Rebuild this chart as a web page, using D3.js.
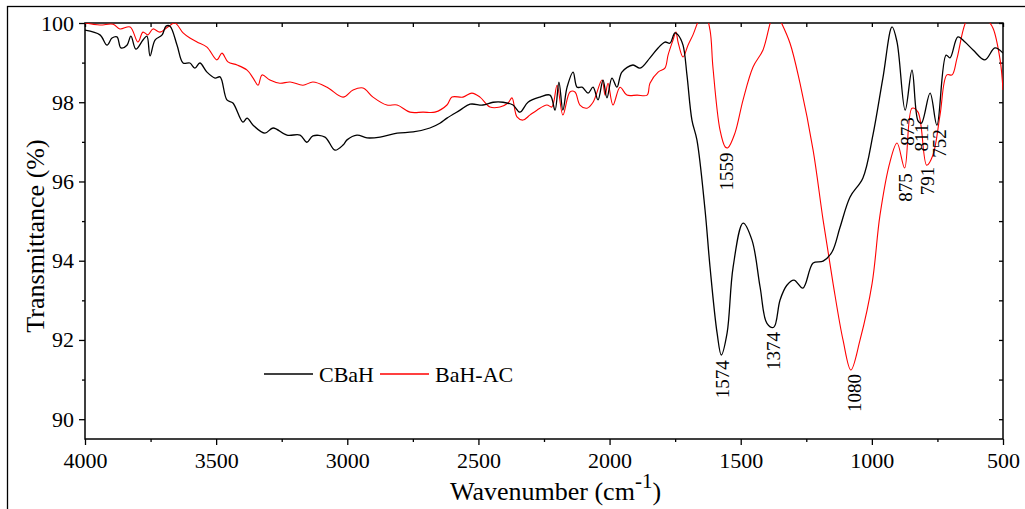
<!DOCTYPE html>
<html>
<head>
<meta charset="utf-8">
<script src="https://cdn.jsdelivr.net/npm/d3@7"></script>
<style>
body { margin: 0; background: #fff; }
svg text { font-family: "Liberation Serif", "Times New Roman", Times, "DejaVu Serif", serif; }
</style>
</head>
<body>
<svg id="chart" width="1025" height="509"></svg>
<script>
// CBaH spectrum (wavenumber, transmittance %)
const cbahWn = [4000,3943,3916,3897,3878,3863,3840,3825,3806,3779,
    3764,3752,3733,3706,3691,3676,3649,3626,3600,3581,
    3562,3535,3504,3485,3459,3436,3398,3382,3359,3314,
    3283,3230,3180,3154,3131,3085,3047,3016,3001,2963,
    2925,2875,2810,2749,2685,2647,2620,2570,2532,2483,
    2444,2406,2368,2342,2311,2265,2227,2208,2193,2178,
    2162,2139,2124,2105,2082,2063,2044,2025,2010,1991,
    1972,1953,1911,1884,1846,1815,1789,1770,1751,1739,
    1720,1705,1686,1667,1636,1617,1590,1574,1552,1529,
    1491,1457,1426,1400,1374,1350,1324,1297,1263,1224,
    1186,1152,1121,1083,1034,996,958,923,904,873,
    847,824,811,778,752,717,702,672,645,614,
    569,531,500];
const cbahT = [99.82,99.70,99.44,99.62,99.65,99.37,99.44,99.67,99.34,99.57,
    99.67,99.17,99.57,99.70,99.92,99.92,99.44,98.99,98.99,98.86,
    98.99,98.76,98.61,98.64,98.06,97.98,97.50,97.60,97.42,97.22,
    97.35,97.17,97.17,96.99,97.15,97.12,96.79,96.92,97.05,97.17,
    97.10,97.12,97.22,97.25,97.35,97.47,97.60,97.80,97.95,97.93,
    98.00,98.00,97.93,97.75,98.00,98.13,98.18,97.80,98.51,97.80,
    98.38,98.76,98.38,98.38,98.23,98.38,98.06,98.56,98.11,98.61,
    98.38,98.76,98.94,98.86,99.12,99.37,99.52,99.49,99.75,99.70,
    99.44,98.69,97.55,97.05,95.28,93.84,92.17,91.62,92.17,93.84,
    94.95,94.52,93.33,92.42,92.32,93.01,93.38,93.51,93.31,93.94,
    93.99,94.22,94.85,95.61,96.09,97.17,98.61,99.90,99.52,97.80,
    98.81,97.53,97.47,98.23,97.42,99.19,99.12,99.65,99.52,99.32,
    99.07,99.37,99.24];

// BaH-AC spectrum
const bahWn = [4000,3943,3893,3867,3828,3798,3779,3760,3741,3714,
    3684,3657,3626,3600,3573,3535,3497,3478,3455,3420,
    3382,3359,3340,3325,3295,3257,3218,3169,3131,3077,
    3016,2978,2940,2902,2849,2810,2761,2711,2666,2620,
    2601,2559,2525,2494,2456,2418,2387,2372,2353,2330,
    2303,2277,2239,2220,2200,2178,2151,2132,2113,2086,
    2063,2029,2017,2006,1987,1960,1934,1895,1857,1846,
    1815,1789,1777,1758,1747,1739,1720,1701,1682,1655,
    1636,1617,1606,1579,1559,1549,1522,1491,1453,1415,
    1381,1365,1350,1312,1274,1224,1186,1148,1110,1080,
    1045,999,969,931,904,875,847,824,791,767,
    740,714,694,675,633,595,561,538,511,500];
const bahT = [100.00,99.95,99.97,99.85,99.90,99.52,99.77,99.70,99.85,99.77,
    99.90,100.00,99.75,99.62,99.52,99.39,99.07,99.24,99.02,98.94,
    98.81,98.61,98.43,98.69,98.56,98.48,98.51,98.43,98.51,98.38,
    98.13,98.31,98.36,98.13,97.93,97.93,97.75,97.75,97.75,97.93,
    98.13,98.13,98.23,98.13,97.88,97.88,97.98,98.11,97.63,97.55,
    97.68,97.80,97.93,97.88,98.43,97.68,98.26,98.26,97.93,97.85,
    98.00,98.56,98.18,98.48,97.93,98.38,98.18,98.18,98.18,98.48,
    98.76,98.86,99.19,99.57,99.77,99.52,99.14,99.44,99.70,100.13,
    100.23,99.82,98.89,97.30,96.87,96.85,97.22,98.06,98.89,99.32,
    100.13,100.28,100.08,99.49,98.48,96.79,95.03,93.43,92.00,91.24,
    92.00,93.43,95.15,96.49,96.97,96.34,97.85,97.75,96.41,96.67,
    97.68,98.69,98.69,99.12,100.13,100.20,100.08,99.87,99.07,98.31];

const seriesNames = ["CBaH", "BaH-AC"];

// peak annotations
const peakLabels = ["1574", "1374", "1080", "1559", "873", "811", "752", "875", "791"];
const peakWn = [1571, 1375, 1066, 1554, 864, 811, 742, 872, 788];
const peakT = [91.01, 91.72, 90.66, 96.25, 97.26, 97.11, 96.96, 95.85, 96.01];

const xTicks = [4000, 3500, 3000, 2500, 2000, 1500, 1000, 500];
const xMinor = [3750, 3250, 2750, 2250, 1750, 1250, 750];
const yTicks = [90, 92, 94, 96, 98, 100];
const yMinor = [91, 93, 95, 97, 99];

const serif = '"Liberation Serif", "Times New Roman", Times, "DejaVu Serif", serif';

const svg = d3.select("#chart"),
    margin = {top: 23, right: 22, bottom: 70, left: 85},
    width = +svg.attr("width") - margin.left - margin.right,
    height = +svg.attr("height") - margin.top - margin.bottom;

const x = d3.scaleLinear().domain([4000, 500]).range([0, width]);
const y = d3.scaleLinear().domain([89.5, 100]).range([height, 0]);

// outer frame
svg.append("rect")
    .attr("x", 7.5).attr("y", 6.5)
    .attr("width", 1040).attr("height", 540)
    .attr("fill", "none").attr("stroke", "#000").attr("stroke-width", 1.3);

const g = svg.append("g").attr("transform", `translate(${margin.left},${margin.top})`);

g.append("clipPath").attr("id", "clip")
  .append("rect").attr("width", width).attr("height", height);

const tickStyle = sel => {
    sel.attr("font-family", serif);
    sel.select(".domain").remove();
    sel.selectAll("line").attr("stroke", "#000").attr("stroke-width", 1.3);
    sel.selectAll("text").attr("fill", "#000").attr("font-size", 22).attr("font-family", serif);
};

g.append("g").attr("transform", `translate(0,${height})`)
    .call(d3.axisBottom(x).tickValues(xTicks).tickSize(6).tickPadding(7).tickFormat(d3.format("d")))
    .call(tickStyle);
g.append("g").attr("transform", `translate(0,${height})`)
    .call(d3.axisBottom(x).tickValues(xMinor).tickSize(3).tickFormat(""))
    .call(tickStyle);
g.append("g")
    .call(d3.axisTop(x).tickValues(xTicks.concat(xMinor)).tickSize(-4).tickFormat(""))
    .call(tickStyle);

g.append("g")
    .call(d3.axisLeft(y).tickValues(yTicks).tickSize(6).tickPadding(5))
    .call(tickStyle);
g.append("g")
    .call(d3.axisLeft(y).tickValues(yMinor).tickSize(3).tickFormat(""))
    .call(tickStyle);
g.append("g").attr("transform", `translate(${width},0)`)
    .call(d3.axisRight(y).tickValues(yTicks.concat(yMinor)).tickSize(-4).tickFormat(""))
    .call(tickStyle);

// frame of plot
g.append("rect")
    .attr("width", width).attr("height", height)
    .attr("fill", "none").attr("stroke", "#000").attr("stroke-width", 1.5);

const line = d3.line()
    .x(d => x(d[0]))
    .y(d => y(d[1]))
    .curve(d3.curveCatmullRom.alpha(0.5));

const cbah = d3.zip(cbahWn, cbahT);
const bah = d3.zip(bahWn, bahT);

const plot = g.append("g").attr("clip-path", "url(#clip)");
plot.append("path").datum(bah)
    .attr("fill", "none").attr("stroke", "#ff0000").attr("stroke-width", 1.1)
    .attr("d", line);
plot.append("path").datum(cbah)
    .attr("fill", "none").attr("stroke", "#000").attr("stroke-width", 1.3)
    .attr("d", line);

// peak labels
g.selectAll(".peak")
    .data(d3.range(peakLabels.length))
    .enter().append("text")
    .attr("class", "peak")
    .attr("transform", i => `translate(${x(peakWn[i])},${y(peakT[i])}) rotate(-90)`)
    .attr("text-anchor", "middle")
    .attr("dy", "0.35em")
    .attr("font-family", serif)
    .attr("font-size", 19)
    .text(i => peakLabels[i]);

// legend
const legend = svg.append("g").attr("transform", "translate(264,374)");
const legendItems = [[0, "#000"], [116, "#ff0000"]];
legendItems.forEach(([off, c], i) => {
    legend.append("line")
        .attr("x1", off).attr("x2", off + 49).attr("y1", 0).attr("y2", 0)
        .attr("stroke", c).attr("stroke-width", 1.3);
    legend.append("text")
        .attr("x", off + 55).attr("dy", "0.35em")
        .attr("font-family", serif)
        .attr("font-size", 22)
        .text(seriesNames[i]);
});

// axis titles
svg.append("text")
    .attr("transform", "translate(44,236) rotate(-90)")
    .attr("text-anchor", "middle")
    .attr("font-family", serif)
    .attr("font-size", 26)
    .text("Transmittance (%)");

const xt = svg.append("text")
    .attr("x", 450).attr("y", 500)
    .attr("font-family", serif)
    .attr("font-size", 26);
xt.append("tspan").text("Wavenumber (cm");
xt.append("tspan").attr("dy", -12).attr("font-size", 21).text("-1");
xt.append("tspan").attr("dy", 12).text(")");
</script>
</body>
</html>
